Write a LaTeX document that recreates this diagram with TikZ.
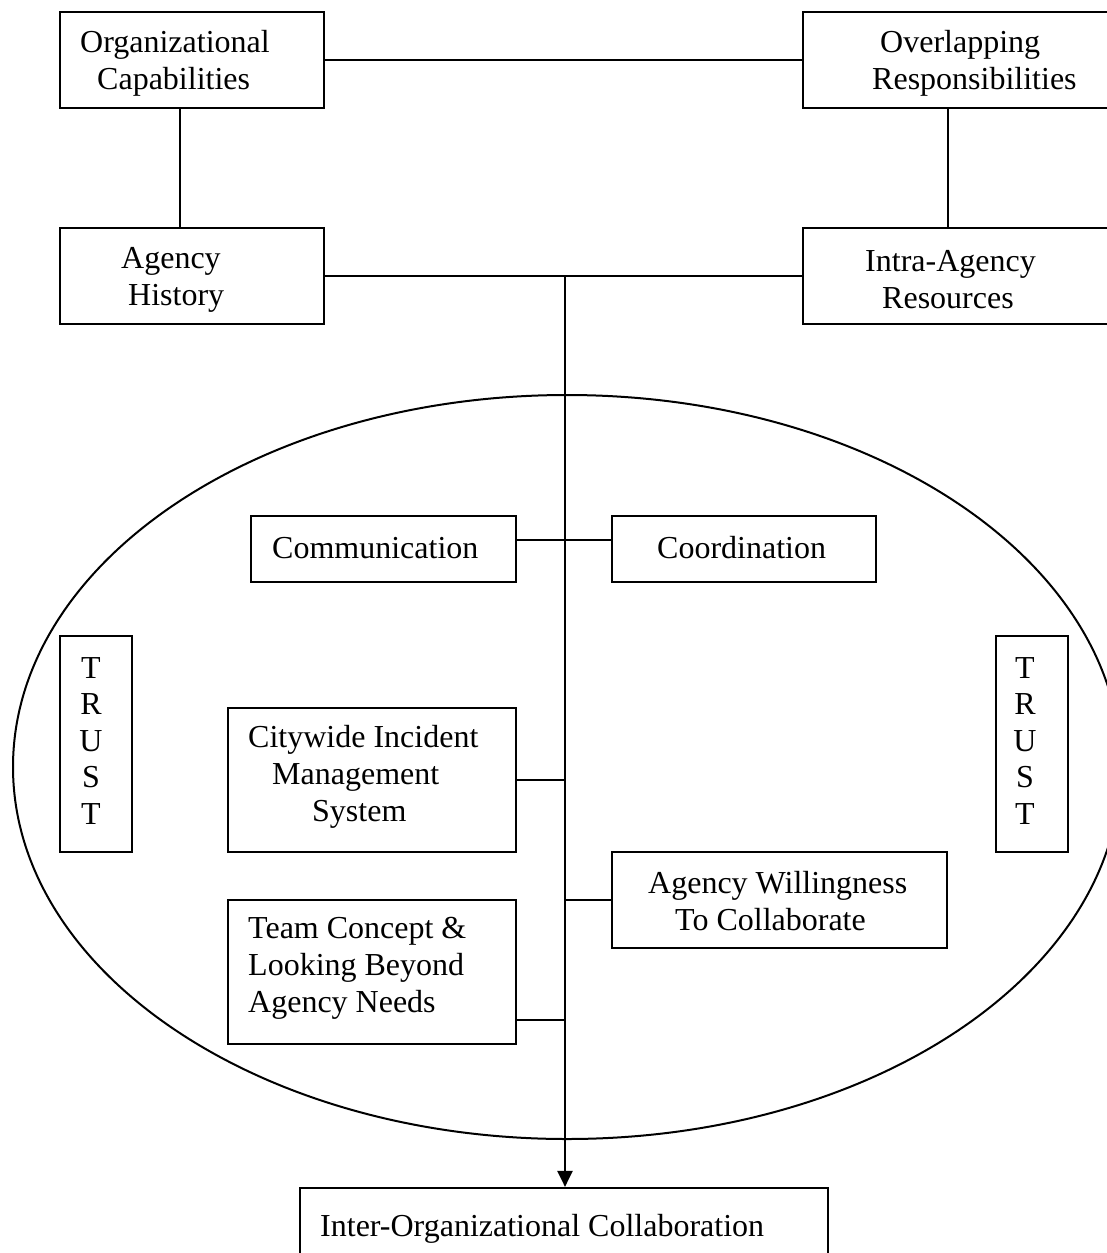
\documentclass[tikz,border=0pt]{standalone}
\usepackage{fontspec}
\setmainfont{Liberation Serif}
\usetikzlibrary{arrows.meta,shapes.geometric}
\begin{document}
\begin{tikzpicture}[x=1pt,y=-1pt,
  boxnode/.style={draw,line width=2.2pt,inner sep=0pt,minimum width=#1},
  boxnode/.default=100pt,
  txt/.style={inner sep=0pt,align=left,anchor=west,font=\fontsize{32}{37}\selectfont},
  trusttxt/.style={inner sep=0pt,align=center,font=\fontsize{32}{36.5}\selectfont},
  conn/.style={line width=2.2pt}]
\useasboundingbox (0,0) rectangle (1107,1253);
\clip (0,0) rectangle (1107,1253);
% ellipse
\node[draw,line width=2pt,ellipse,minimum width=1108pt,minimum height=744pt,inner sep=0pt] (ell) at (567,767) {};
% boxes
\node[boxnode=264pt,minimum height=96pt] (oc) at (192,60) {};
\node[boxnode=317pt,minimum height=96pt] (or) at (961.5,60) {};
\node[boxnode=264pt,minimum height=96pt] (ah) at (192,276) {};
\node[boxnode=317pt,minimum height=96pt] (ia) at (961.5,276) {};
\node[boxnode=265pt,minimum height=66pt] (cm) at (383.5,549) {};
\node[boxnode=264pt,minimum height=66pt] (co) at (744,549) {};
\node[boxnode=72pt,minimum height=216pt] (tl) at (96,744) {};
\node[boxnode=72pt,minimum height=216pt] (tr) at (1032,744) {};
\node[boxnode=288pt,minimum height=144pt] (cw) at (372,780) {};
\node[boxnode=335pt,minimum height=96pt] (aw) at (779.5,900) {};
\node[boxnode=288pt,minimum height=144pt] (tc) at (372,972) {};
\node[boxnode=528pt,minimum height=110pt] (ioc) at (564,1243) {};
% texts
\node[txt] (toc) at (80,63) {Organizational\\\hspace*{17pt}Capabilities};
\node[txt] (tah) at (121,280) {Agency\\\hspace*{7pt}History};
\node[txt] (tor) at (872,63) {\hspace*{8pt}Overlapping\\Responsibilities};
\node[txt] (tia) at (865,280) {Intra-Agency\\\hspace*{17pt}Resources};
\node[txt] (tcm) at (272,548) {Communication};
\node[txt] (tco) at (657,548) {Coordination};
\node[txt] (tcw) at (248,777) {Citywide Incident\\\hspace*{24pt}Management\\\hspace*{64pt}System};
\node[txt] (ttc) at (248,968) {Team Concept \&\\Looking Beyond\\Agency Needs};
\node[txt] (taw) at (648,901) {Agency Willingness\\\hspace*{27pt}To Collaborate};
\node[txt] (tioc) at (320,1229) {Inter-Organizational Collaboration};
\node[trusttxt] (ttl) at (91,741) {T\\R\\U\\S\\T};
\node[trusttxt] (ttr) at (1025,741) {T\\R\\U\\S\\T};
% connectors
\coordinate (j1) at (565,276);
\draw[conn] (oc.east) -- (or.west);
\draw[conn] ([xshift=-12pt]oc.south) -- ([xshift=-12pt]ah.north);
\draw[conn] ([xshift=-13.5pt]or.south) -- ([xshift=-13.5pt]ia.north);
\draw[conn] (ah.east) -- (ia.west);
\draw[conn,-{Triangle[length=16pt,width=15pt]}] (j1) -- (j1 |- ioc.north);
\draw[conn] ([yshift=9pt]cm.east) -- ([yshift=9pt]co.west);
\draw[conn] (cw.east) -- (cw.east -| j1);
\draw[conn] (aw.west) -- (aw.west -| j1);
\draw[conn] ([yshift=-48pt]tc.east) -- ([yshift=-48pt]tc.east -| j1);
\end{tikzpicture}
\end{document}
